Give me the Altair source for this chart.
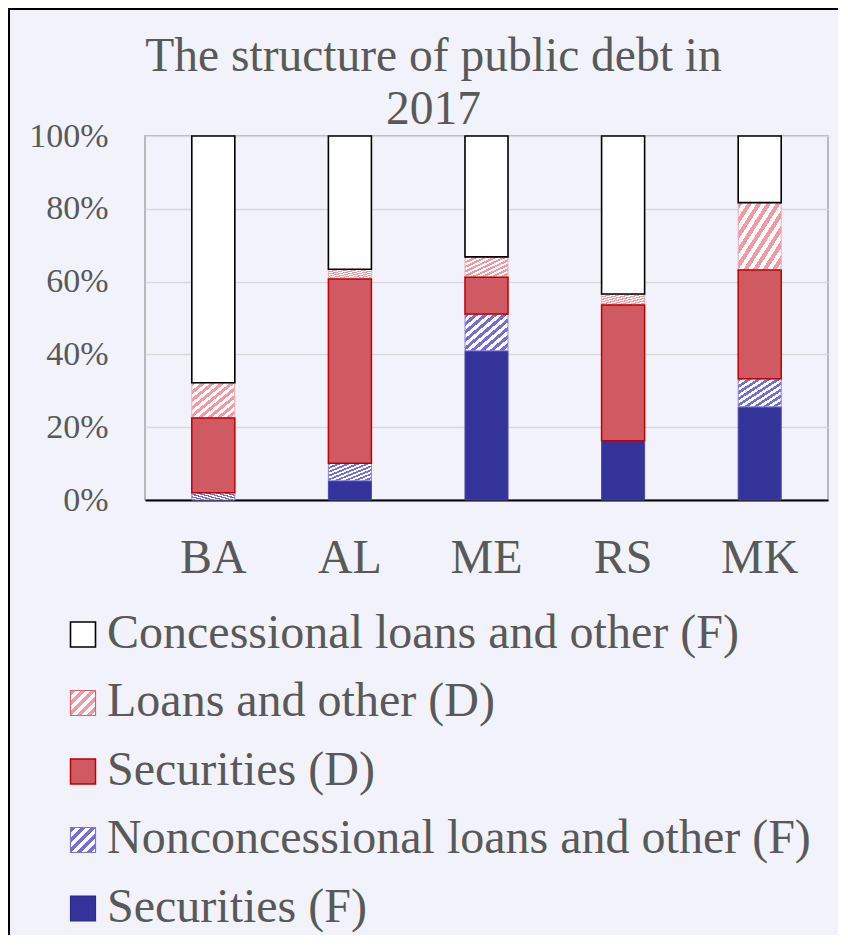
import altair as alt
import pandas as pd

# ---------------- data ----------------
countries = ["BA", "AL", "ME", "RS", "MK"]
series_stack = [
    "Securities (F)",
    "Nonconcessional loans and other (F)",
    "Securities (D)",
    "Loans and other (D)",
    "Concessional loans and other (F)",
]
legend_order = [
    "Concessional loans and other (F)",
    "Loans and other (D)",
    "Securities (D)",
    "Nonconcessional loans and other (F)",
    "Securities (F)",
]
securities_f = [0.0, 5.3, 41.0, 16.3, 25.6]
nonconcessional_f = [2.0, 4.8, 10.1, 0.0, 7.7]
securities_d = [20.5, 50.6, 10.1, 37.3, 29.9]
loans_d = [9.7, 2.7, 5.6, 3.0, 18.5]
concessional_f = [67.8, 36.6, 33.2, 43.4, 18.3]
y_ticks = [0, 0.2, 0.4, 0.6, 0.8, 1.0]
title_lines = ["The structure of public debt in", "2017"]

values_by_series = {
    "Securities (F)": securities_f,
    "Nonconcessional loans and other (F)": nonconcessional_f,
    "Securities (D)": securities_d,
    "Loans and other (D)": loans_d,
    "Concessional loans and other (F)": concessional_f,
}

rows = []
for order, s in enumerate(series_stack):
    for c, v in zip(countries, values_by_series[s]):
        rows.append({"country": c, "series": s, "value": v, "order": order})
df = pd.DataFrame(rows)
df_leg = pd.DataFrame({"series": legend_order})
df_one = pd.DataFrame({"k": [0]})

# ---------------- styles ----------------
FONT = "Liberation Serif"
TXT = "#595959"
W, H = 683, 364


def hatch(color, periods, frac=0.5):
    stops = []
    for i in range(periods):
        a = i / periods
        b = (i + frac) / periods
        e = (i + 1) / periods
        stops += [
            alt.GradientStop(offset=a, color=color),
            alt.GradientStop(offset=b, color=color),
            alt.GradientStop(offset=b, color="#ffffff"),
            alt.GradientStop(offset=e, color="#ffffff"),
        ]
    return alt.LinearGradient(gradient="linear", stops=stops, x1=0, y1=0, x2=1, y2=1)


style_bar = {
    "Securities (F)": dict(fill="#333399", stroke="#4747a8", strokeWidth=1),
    "Nonconcessional loans and other (F)": dict(fill=hatch("#746fd4", 9), stroke="#8a86dc", strokeWidth=1),
    "Securities (D)": dict(fill="#d05a62", stroke="#c00000", strokeWidth=1.5),
    "Loans and other (D)": dict(fill=hatch("#f29aa3", 9), stroke="#f2aab1", strokeWidth=1),
    "Concessional loans and other (F)": dict(fill="#ffffff", stroke="#000000", strokeWidth=1.6),
}
style_leg = {
    "Securities (F)": dict(fill="#333399", stroke="#2b2b8c", strokeWidth=1.2),
    "Nonconcessional loans and other (F)": dict(fill=hatch("#746fd4", 5), stroke="#7a76d6", strokeWidth=1.2),
    "Securities (D)": dict(fill="#d05a62", stroke="#c00000", strokeWidth=1.5),
    "Loans and other (D)": dict(fill=hatch("#f29aa3", 5), stroke="#d9626d", strokeWidth=1.2),
    "Concessional loans and other (F)": dict(fill="#ffffff", stroke="#000000", strokeWidth=1.6),
}

x_scale = alt.Scale(domain=countries, paddingInner=0.685, paddingOuter=0.3425)
y_scale = alt.Scale(domain=[0, 1], nice=False)
x_axis = alt.Axis(
    title=None, ticks=False, labelAngle=0, labelFont=FONT, labelFontSize=48,
    labelColor=TXT, labelPadding=72, labelBaseline="alphabetic",
    domainColor="#000000", domainWidth=2, grid=False,
)
y_axis = alt.Axis(
    title=None, ticks=False, values=y_ticks, format="%", labelFont=FONT,
    labelFontSize=34, labelColor=TXT, labelPadding=37, domain=False,
    grid=True, gridColor="#d9d9d9", gridWidth=1.5,
)

base = alt.Chart(df).transform_stack(
    stack="value", groupby=["country"], as_=["y0", "y1"],
    sort=[alt.SortField("order", order="ascending")], offset="normalize",
)

draw_order = [
    "Securities (F)",
    "Nonconcessional loans and other (F)",
    "Loans and other (D)",
    "Securities (D)",
    "Concessional loans and other (F)",
]
bar_layers = []
for s in draw_order:
    bar_layers.append(
        base.transform_filter((alt.datum.series == s) & (alt.datum.value > 0))
        .mark_bar(**style_bar[s])
        .encode(
            x=alt.X("country:N", sort=countries, scale=x_scale, axis=x_axis),
            y=alt.Y("y0:Q", scale=y_scale, axis=y_axis),
            y2="y1:Q",
        )
    )
bars = alt.layer(*bar_layers)

leg_y = alt.Y(
    "series:N",
    scale=alt.Scale(type="point", domain=legend_order, range=[498.5, 772.5], padding=0),
    axis=None,
)
leg_layers = []
for s in legend_order:
    leg_layers.append(
        alt.Chart(df_leg)
        .transform_filter(alt.datum.series == s)
        .mark_square(size=625, opacity=1, **style_leg[s])
        .encode(x=alt.value(-62), y=leg_y)
    )
leg_layers.append(
    alt.Chart(df_leg)
    .mark_text(align="left", baseline="alphabetic", dy=13, font=FONT, fontSize=48, color=TXT)
    .encode(x=alt.value(-38), y=leg_y, text="series:N")
)
legend = alt.layer(*leg_layers)

frame = alt.Chart(df_one).mark_rect(fill="transparent", stroke="#000000", strokeWidth=2).encode(
    x=alt.value(-136), x2=alt.value(W + 40), y=alt.value(-127), y2=alt.value(H + 480)
)

chart = (
    alt.layer(bars, legend, frame)
    .resolve_scale(y="independent")
    .properties(
        width=W,
        height=H,
        autosize=alt.AutoSizeParams(type="none"),
        padding={"left": 137, "top": 128, "right": 10, "bottom": 435},
        background="#f2f3fa",
        title=alt.TitleParams(
            text=title_lines, font=FONT, fontSize=47.5, fontWeight="normal",
            color=TXT, anchor="middle", frame="group", dx=-53, lineHeight=53,
            offset=-125,
        ),
    )
    .configure_view(stroke="#a6a6a6", strokeWidth=1.5)
)

chart.save("out.html", embed_options={"renderer": "svg", "actions": False})
